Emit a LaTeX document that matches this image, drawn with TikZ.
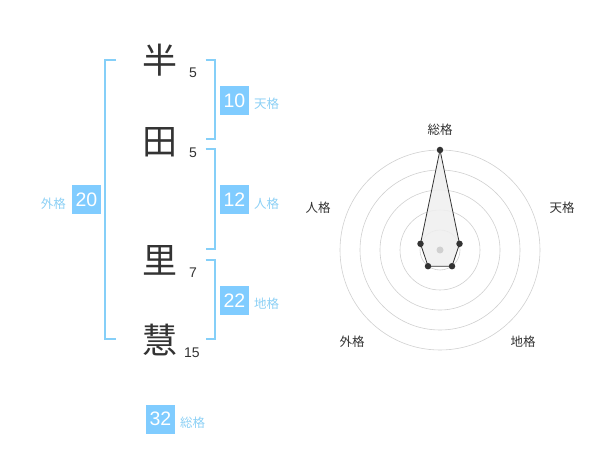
\documentclass[tikz,border=0pt]{standalone}
\usepackage{fontspec}
\setmainfont{Liberation Sans}
\newfontfamily\cjk{Noto Sans CJK JP}
\definecolor{brk}{HTML}{85CFF8}
\definecolor{boxc}{HTML}{80CCFF}
\definecolor{lblc}{HTML}{8CD0F5}
\definecolor{chc}{HTML}{333333}
\definecolor{ringc}{HTML}{D0D0D0}
\definecolor{polyfill}{HTML}{EFEFEF}
\begin{document}
\begin{tikzpicture}[x=1pt,y=-1pt,
  namechar/.style={font=\cjk\fontsize{35}{35}\selectfont,text=chc,inner sep=0pt},
  stroke/.style={font=\fontsize{14}{14}\selectfont,text=chc,inner sep=0pt},
  numbox/.style={fill=boxc,text=white,minimum width=29pt,minimum height=29pt,inner sep=0pt,font=\fontsize{19.5}{19.5}\selectfont},
  kaku/.style={font=\cjk\fontsize{12.5}{12.5}\selectfont,text=lblc,inner sep=0pt},
  bracket/.style={draw=brk,line width=2pt},
  ring/.style={draw=ringc,line width=0.6pt},
  axlbl/.style={font=\cjk\fontsize{12.5}{12.5}\selectfont,text=chc,inner sep=0pt},
  dot/.style={circle,fill=chc,minimum size=6.5pt,inner sep=0pt}]
\useasboundingbox (0,0) rectangle (600,470);
% name characters
\node[namechar] (c1) at (160,60) {半};
\node[namechar] (c2) at (160,142) {田};
\node[namechar] (c3) at (160,260) {里};
\node[namechar] (c4) at (160,340) {慧};
\node[stroke] (s1) at (193,73) {5};
\node[stroke] (s2) at (193,153) {5};
\node[stroke] (s3) at (193,273) {7};
\node[stroke] (s4) at (192,353) {15};
% brackets
\draw[bracket] (116,60) -- (105,60) -- (105,339.5) -- (116,339.5);
\draw[bracket] (205.5,60) -- (214.5,60) -- (214.5,139.5) -- (205.5,139.5);
\draw[bracket] (205.5,149.5) -- (214.5,149.5) -- (214.5,249.5) -- (205.5,249.5);
\draw[bracket] (205.5,260) -- (214.5,260) -- (214.5,339.5) -- (205.5,339.5);
% boxes
\node[numbox] (ten) at (234.5,100.5) {10};
\node[kaku,anchor=west] (tenl) at (254,104) {天格};
\node[numbox] (jin) at (234.5,200) {12};
\node[kaku,anchor=west] (jinl) at (254,204) {人格};
\node[numbox] (chi) at (234.5,300.5) {22};
\node[kaku,anchor=west] (chil) at (254,304) {地格};
\node[numbox] (gai) at (86.5,200) {20};
\node[kaku,anchor=east] (gail) at (66,204) {外格};
\node[numbox] (sou) at (160.5,419) {32};
\node[kaku,anchor=west] (soul) at (180,423) {総格};
% radar
\coordinate (o) at (440,250);
\foreach \r in {20,40,60,80,100} \draw[ring] (o) circle (\r);
\coordinate (pS) at (440,150);
\coordinate (pT) at (459.5,243.8);
\coordinate (pC) at (452,266.2);
\coordinate (pG) at (428,266.2);
\coordinate (pJ) at (420.5,243.8);
\draw[chc,fill=polyfill,fill opacity=0.85,line width=0.8pt] (pS) -- (pT) -- (pC) -- (pG) -- (pJ) -- cycle;
\node[circle,fill=ringc,minimum size=7pt,inner sep=0pt] (ctr) at (o) {};
\foreach \p in {pS,pT,pC,pG,pJ} \node[dot] at (\p) {};
\node[axlbl] (aS) at (440,130) {総格};
\node[axlbl] (aT) at (562,208) {天格};
\node[axlbl] (aJ) at (318,208) {人格};
\node[axlbl] (aC) at (523,342) {地格};
\node[axlbl] (aG) at (352,342) {外格};
\end{tikzpicture}
\end{document}
